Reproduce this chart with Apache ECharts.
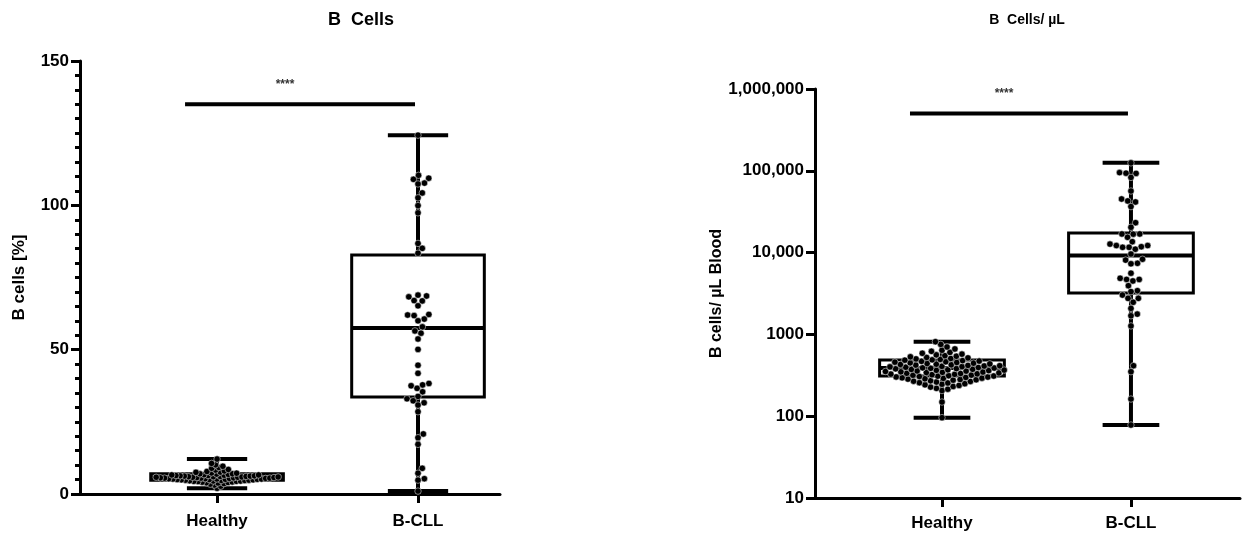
<!DOCTYPE html>
<html>
<head>
<meta charset="utf-8">
<script src="https://cdn.jsdelivr.net/npm/echarts@6/dist/echarts.min.js"></script>
<style>
  html, body { margin: 0; padding: 0; background: #fff; }
  #chart { width: 1257px; height: 533px; }
</style>
</head>
<body>
<div id="chart"></div>
<script>
const categories = ['Healthy', 'B-CLL'];

// B cells [%]
const pctHealthy = [2.0, 2.7, 3.1, 3.4, 3.6, 3.8, 3.9, 4.0, 4.1, 4.2, 4.3, 4.4, 4.4, 4.5, 4.5, 4.6, 4.7, 4.7,
  4.8, 4.8, 4.9, 4.9, 5.0, 5.0, 5.1, 5.1, 5.2, 5.2, 5.2, 5.3, 5.3, 5.4, 5.4, 5.5, 5.5, 5.5, 5.6, 5.6,
  5.7, 5.7, 5.8, 5.8, 5.8, 5.9, 5.9, 6.0, 6.0, 6.1, 6.1, 6.2, 6.2, 6.3, 6.3, 6.4, 6.4, 6.5, 6.6, 6.6,
  6.7, 6.8, 6.9, 7.0, 7.0, 7.2, 7.3, 7.5, 7.6, 7.8, 8.0, 8.3, 8.5, 8.9, 9.2, 9.6, 10.1, 10.6, 12.1];
const pctCLL = [124.3, 110.4, 109.4, 109.0, 107.7, 107.4, 104.3, 102.6, 99.9, 97.4, 86.8, 85.1, 83.4,
  68.9, 68.6, 68.3, 67.0, 66.9, 65.2, 62.2, 62.0, 61.8, 60.6, 60.0, 57.9, 56.5, 55.7,
  53.7, 50.1, 44.6, 41.8, 38.3, 37.8, 37.5, 36.6, 35.4, 33.8, 33.0, 32.3, 31.6, 30.8,
  28.5, 20.8, 19.5, 17.2, 8.9, 7.2, 5.3, 4.8, 1.0];
// [min, Q1, median, Q3, max]
const pctBoxHealthy = [2.0, 4.8, 5.8, 7.0, 12.1];
const pctBoxCLL = [1.0, 33.6, 57.5, 82.8, 124.3];
const pctSig = 135;

// B cells / µL blood
const absHealthy = [96, 149, 206, 214, 219, 227, 231, 238, 242, 246, 250, 255, 257, 262, 266, 268, 271, 276,
  279, 281, 284, 287, 290, 292, 295, 298, 301, 302, 306, 309, 310, 313, 317, 318, 322, 325, 327, 330,
  333, 335, 338, 342, 344, 347, 349, 352, 356, 358, 361, 364, 366, 370, 373, 375, 379, 382, 385, 388,
  390, 394, 397, 401, 404, 407, 411, 414, 418, 422, 425, 429, 433, 436, 441, 445, 449, 454, 458, 463,
  468, 472, 478, 484, 489, 495, 502, 508, 516, 523, 532, 541, 550, 562, 574, 588, 603, 621, 640, 664,
  702, 755, 815];
const absCLL = [125000, 95000, 93500, 93000, 83000, 56600, 45200, 42800, 41600, 36500, 23200, 20400,
  16900, 16900, 16800, 15400, 13600, 12700, 12200, 12200, 11800, 11600, 11600, 11000,
  9600, 8300, 8100, 7400, 7300, 5600, 4850, 4700, 4700, 4500, 3940, 3420, 3330, 3030, 2760, 2760,
  2470, 2080, 1770, 1690, 1270, 414, 350, 162, 78];
const absBoxHealthy = [96, 310, 388, 486, 815];
const absBoxCLL = [78, 3200, 9200, 17400, 125000];
const absSig = 500000;
const sigLabel = '****';

const FONT = '"Liberation Sans", Arial, sans-serif';
const chart = echarts.init(document.getElementById('chart'));

function fmtAbs(v) {
  return v >= 10000 ? v.toLocaleString('en-US') : String(v);
}

// simple deterministic beeswarm: each dot goes to the free spot closest to the centre
function swarm(pts, d) {
  const order = pts.map((p, i) => i).sort((a, b) => pts[b][1] - pts[a][1]);
  const placed = [];
  const out = [];
  order.forEach(i => {
    const cx = pts[i][0], cy = pts[i][1];
    const near = placed.filter(q => Math.abs(q[1] - cy) < d);
    const cands = [0];
    near.forEach(q => {
      const dx = Math.sqrt(d * d - (q[1] - cy) * (q[1] - cy));
      cands.push(q[0] - cx + dx, q[0] - cx - dx);
    });
    cands.sort((a, b) => Math.abs(a) - Math.abs(b));
    let off = 0;
    for (const c of cands) {
      const ok = near.every(q => (q[0] - cx - c) ** 2 + (q[1] - cy) ** 2 >= d * d - 0.01);
      if (ok) { off = c; break; }
    }
    const p = [cx + off, cy];
    placed.push(p);
    out[i] = p;
  });
  return out;
}

function dotSeries(gridIdx, cat, values, diam, spacing) {
  return {
    type: 'custom',
    xAxisIndex: gridIdx,
    yAxisIndex: gridIdx,
    z: 3,
    data: values.map(v => [cat, v]),
    encode: { x: 0, y: 1 },
    renderItem(params, api) {
      const ctx = params.context;
      if (!ctx.pos) {
        ctx.pos = swarm(values.map(v => api.coord([cat, v])), spacing);
      }
      const p = ctx.pos[params.dataIndex];
      return {
        type: 'circle',
        shape: { cx: p[0], cy: p[1], r: diam / 2 },
        style: { fill: '#000', stroke: '#fff', lineWidth: 0.5 }
      };
    }
  };
}

function boxSeries(gridIdx, boxes) {
  return {
    type: 'custom',
    xAxisIndex: gridIdx,
    yAxisIndex: gridIdx,
    z: 2,
    data: boxes.map((b, i) => [i].concat(b)),
    encode: { x: 0, y: [1, 2, 3, 4, 5] },
    renderItem(params, api) {
      const x = api.value(0);
      const bw = 0.33, cw = 0.15;
      const pMin = api.coord([x, api.value(1)]);
      const pQ1 = api.coord([x, api.value(2)]);
      const pMed = api.coord([x, api.value(3)]);
      const pQ3 = api.coord([x, api.value(4)]);
      const pMax = api.coord([x, api.value(5)]);
      const l = api.coord([x - bw, api.value(3)])[0];
      const r = api.coord([x + bw, api.value(3)])[0];
      const cl = api.coord([x - cw, api.value(3)])[0];
      const cr = api.coord([x + cw, api.value(3)])[0];
      const thick = { stroke: '#000', lineWidth: 4 };
      return {
        type: 'group',
        children: [
          { type: 'line', shape: { x1: pMin[0], y1: pMin[1], x2: pQ1[0], y2: pQ1[1] }, style: thick },
          { type: 'line', shape: { x1: pQ3[0], y1: pQ3[1], x2: pMax[0], y2: pMax[1] }, style: thick },
          { type: 'line', shape: { x1: cl, y1: pMin[1], x2: cr, y2: pMin[1] }, style: thick },
          { type: 'line', shape: { x1: cl, y1: pMax[1], x2: cr, y2: pMax[1] }, style: thick },
          { type: 'rect', shape: { x: l, y: pQ3[1], width: r - l, height: pQ1[1] - pQ3[1] },
            style: { fill: 'none', stroke: '#000', lineWidth: 3 } },
          { type: 'line', shape: { x1: l, y1: pMed[1], x2: r, y2: pMed[1] }, style: thick }
        ]
      };
    }
  };
}

function sigSeries(gridIdx, yVal) {
  return {
    type: 'custom',
    xAxisIndex: gridIdx,
    yAxisIndex: gridIdx,
    z: 2,
    data: [[0, yVal]],
    encode: { x: 0, y: 1 },
    renderItem(params, api) {
      const a = api.coord([0, yVal]);
      const b = api.coord([1, yVal]);
      const x1 = a[0] - 32, x2 = b[0] - 3;
      return {
        type: 'group',
        children: [
          { type: 'line', shape: { x1: x1, y1: a[1], x2: x2, y2: a[1] },
            style: { stroke: '#000', lineWidth: 4 } },
          { type: 'text', x: (x1 + x2) / 2 - 15, y: a[1] - 14,
            style: { text: sigLabel, fill: '#333', font: 'bold 12px ' + FONT, align: 'center', verticalAlign: 'bottom' } }
        ]
      };
    }
  };
}

const axisLineStyle = { color: '#000', width: 3 };
const tickLabel = { color: '#000', fontFamily: FONT, fontWeight: 'bold', fontSize: 17 };

function xAxis(gridIdx, min, max, labelGap) {
  return {
    gridIndex: gridIdx,
    type: 'value',
    min: min,
    max: max,
    axisLine: { show: true, onZero: false, lineStyle: axisLineStyle },
    axisTick: { show: true, customValues: [0, 1], length: 9, lineStyle: axisLineStyle },
    axisLabel: Object.assign({ customValues: [0, 1], margin: labelGap, formatter: v => categories[Math.round(v)] }, tickLabel),
    splitLine: { show: false }
  };
}

const option = {
  animation: false,
  backgroundColor: '#fff',
  graphic: [
    { type: 'text', x: 361, y: 20, style: { text: 'B  Cells', font: 'bold 18px ' + FONT, fill: '#000', align: 'center', verticalAlign: 'middle' } },
    { type: 'text', x: 1027, y: 20, style: { text: 'B  Cells/ µL', font: 'bold 14px ' + FONT, fill: '#000', align: 'center', verticalAlign: 'middle' } }
  ],
  grid: [
    { left: 80, top: 61, width: 420, height: 433 },
    { left: 815, top: 89, width: 425, height: 409 }
  ],
  xAxis: [xAxis(0, -0.682, 1.408, 19), xAxis(1, -0.672, 1.577, 17)],
  yAxis: [
    {
      gridIndex: 0,
      type: 'value',
      min: 0,
      max: 150,
      interval: 50,
      name: 'B cells [%]',
      nameLocation: 'middle',
      nameGap: 52,
      nameTextStyle: { color: '#000', fontFamily: FONT, fontWeight: 'bold', fontSize: 17 },
      axisLine: { show: true, onZero: false, lineStyle: axisLineStyle },
      axisTick: { show: true, length: 9, lineStyle: axisLineStyle },
      minorTick: { show: true, splitNumber: 10, length: 5, lineStyle: { color: '#000', width: 3 } },
      axisLabel: Object.assign({ margin: 11 }, tickLabel),
      splitLine: { show: false }
    },
    {
      gridIndex: 1,
      type: 'log',
      logBase: 10,
      min: 10,
      max: 1000000,
      name: 'B cells/ µL Blood',
      nameLocation: 'middle',
      nameGap: 88,
      nameTextStyle: { color: '#000', fontFamily: FONT, fontWeight: 'bold', fontSize: 16 },
      axisLine: { show: true, onZero: false, lineStyle: axisLineStyle },
      axisTick: { show: true, length: 9, lineStyle: axisLineStyle },
      axisLabel: Object.assign({ margin: 11, formatter: fmtAbs }, tickLabel),
      splitLine: { show: false }
    }
  ],
  series: [
    boxSeries(0, [pctBoxHealthy, pctBoxCLL]),
    dotSeries(0, 0, pctHealthy, 6.5, 4.2),
    dotSeries(0, 1, pctCLL, 6.5, 6.5),
    sigSeries(0, pctSig),
    boxSeries(1, [absBoxHealthy, absBoxCLL]),
    dotSeries(1, 0, absHealthy, 6.5, 6),
    dotSeries(1, 1, absCLL, 6.5, 6.5),
    sigSeries(1, absSig)
  ]
};

chart.setOption(option);
</script>
</body>
</html>
